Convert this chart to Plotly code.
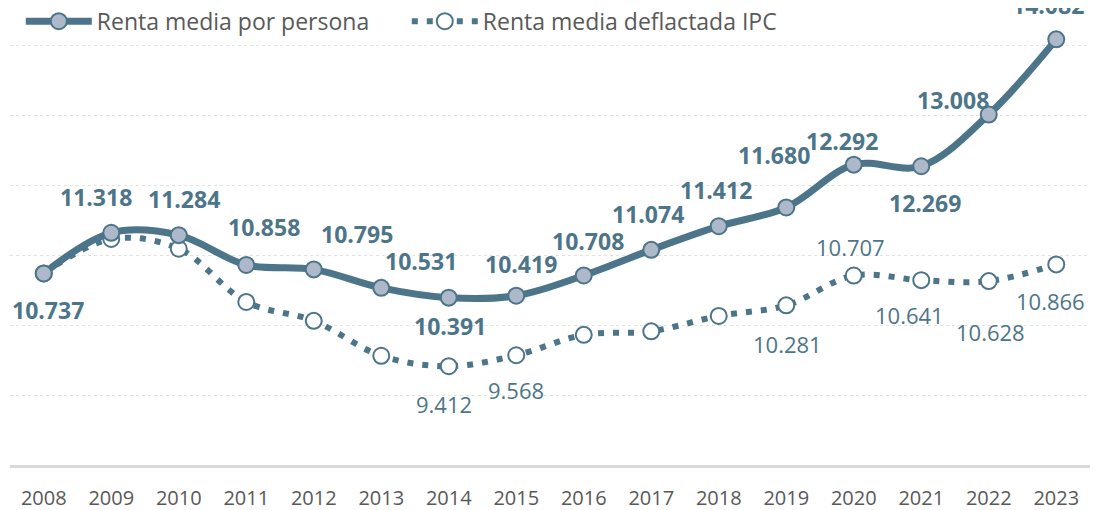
import plotly.graph_objects as go

years = [str(y) for y in range(2008, 2024)]
renta = [10.737, 11.318, 11.284, 10.858, 10.795, 10.531, 10.391, 10.419,
         10.708, 11.074, 11.412, 11.680, 12.292, 12.269, 13.008, 14.082]
deflactada = [10.737, 11.23, 11.09, 10.33, 10.06, 9.56, 9.412, 9.568,
              9.86, 9.91, 10.13, 10.281, 10.707, 10.641, 10.628, 10.866]
# which points of the deflated series carry a label
deflactada_label = [False] * 6 + [True, True] + [False] * 3 + [True] * 5

name_renta = "Renta media por persona"
name_defl = "Renta media deflactada IPC"

azul = "#4d7589"
gris = "#595959"
fnt = "Open Sans, Arial, sans-serif"

def fmt(v):
    return f"{v:.3f}"

fig = go.Figure()
fig.add_trace(go.Scatter(
    x=years, y=deflactada, name=name_defl, mode="lines+markers",
    line=dict(color=azul, width=6, dash="6px,9px", shape="spline", smoothing=1),
    marker=dict(size=16, color="white", line=dict(color=azul, width=2)),
))
fig.add_trace(go.Scatter(
    x=years, y=renta, name=name_renta, mode="lines+markers",
    line=dict(color=azul, width=7, shape="spline", smoothing=1),
    marker=dict(size=16, color="#adb9ca", line=dict(color=azul, width=2)),
))

# label offsets (px) for each year
off_renta = [(4, -37), (-15, 36), (5, 36), (18, 38), (43, 35), (40, 27), (1, -28), (5, 32),
             (4, 34), (-3, 36), (-3, 36), (-12, 52), (-12, 24), (4, -37), (-36, 15), (-8, 34)]
off_defl = [(0, 0)] * 6 + [(-5, -38), (0, -35)] + [(0, 0)] * 3 + \
           [(1, -39), (-3, 29), (-12, -35), (2, -51), (-6, -37)]

# category axis: annotations are placed by category index
for i, yr in enumerate(years):
    dx, dy = off_renta[i]
    fig.add_annotation(x=i, y=renta[i], text="<b>" + fmt(renta[i]) + "</b>",
                       showarrow=False, xshift=dx, yshift=dy,
                       font=dict(family=fnt, size=23, color=azul))
    if deflactada_label[i]:
        dx, dy = off_defl[i]
        fig.add_annotation(x=i, y=deflactada[i], text=fmt(deflactada[i]),
                           showarrow=False, xshift=dx, yshift=dy,
                           font=dict(family=fnt, size=22, color=azul))

fig.update_layout(
    width=1104, height=510,
    margin=dict(l=2, r=22, t=0, b=53, autoexpand=False),
    paper_bgcolor="white", plot_bgcolor="white",
    font=dict(family=fnt, color=gris, size=20),
    showlegend=True,
    legend=dict(orientation="h", x=0.01, y=0.974, yref="container",
                xanchor="left", yanchor="middle",
                traceorder="reversed", font=dict(size=23, color=gris),
                itemwidth=66, entrywidth=305, bgcolor="rgba(0,0,0,0)"),
    xaxis=dict(type="category", range=[-0.5, 15.5], showgrid=False,
               showline=True, linecolor="#d9d9d9", linewidth=3,
               ticks="", ticklabelstandoff=13, tickfont=dict(size=20, color=gris)),
    yaxis=dict(range=[8, 14.53], dtick=1, showticklabels=False, showgrid=True,
               gridcolor="#e3e3e3", griddash="dot", gridwidth=1, zeroline=False),
)

fig.write_html("out.html")
